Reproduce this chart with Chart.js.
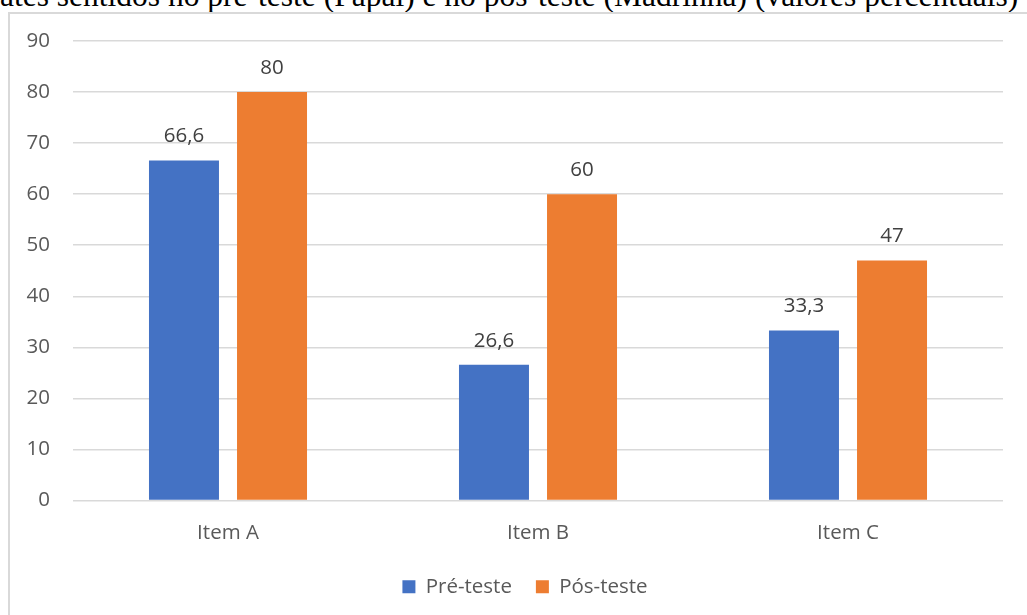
<!DOCTYPE html>
<html>
<head>
<meta charset="utf-8">
<script src="https://cdn.jsdelivr.net/npm/chart.js@4.4.1/dist/chart.umd.min.js"></script>
<style>
  html, body { margin: 0; padding: 0; background: #fff; }
  #wrap { position: relative; width: 1027px; height: 615px; overflow: hidden; background: #fff; }
  #title { position: absolute; left: 0; top: -20px; white-space: nowrap; font-family: "Liberation Serif", "DejaVu Serif", serif; font-size: 31.5px; color: #000; line-height: 1; }
  #box { position: absolute; left: 8px; top: 12px; width: 1040px; height: 640px; border: 2px solid #d9d9d9; box-sizing: border-box; }
  #c { position: absolute; left: 0; top: 0; }
</style>
</head>
<body>
<div id="wrap">
  <div id="title">ates sentidos no pré-teste (Papai) e no pós-teste (Madrinha) (valores percentuais)</div>
  <div id="box"></div>
  <canvas id="c" width="1027" height="615"></canvas>
</div>
<script>
const categories = ["Item A", "Item B", "Item C"];
const seriesNames = ["Pré-teste", "Pós-teste"];
const preTeste = [66.6, 26.6, 33.3];
const posTeste = [80, 60, 47];
const yMin = 0, yMax = 90, yStep = 10;

const FONT = '"Open Sans", "Noto Sans", sans-serif';
const FS = 20.5;

const valueLabels = {
  id: 'valueLabels',
  afterDatasetsDraw(chart) {
    const ctx = chart.ctx;
    ctx.save();
    ctx.font = FS + 'px ' + FONT;
    ctx.fillStyle = '#404040';
    ctx.textAlign = 'center';
    ctx.textBaseline = 'middle';
    chart.data.datasets.forEach((ds, i) => {
      const meta = chart.getDatasetMeta(i);
      meta.data.forEach((bar, j) => {
        const v = ds.data[j];
        ctx.fillText(String(v).replace('.', ','), bar.x, bar.y - 24);
      });
    });
    ctx.restore();
  }
};

// shift the legend so it sits where the original's does
const legendShift = {
  id: 'legendShift',
  afterLayout(chart) {
    const lg = chart.legend;
    if (!lg) return;
    const ca = chart.chartArea;
    const target = (ca.left + ca.right) / 2 - 13;
    const cur = (lg.left + lg.right) / 2;
    const d = target - cur;
    lg.left += d;
    lg.right += d;
  }
};

new Chart(document.getElementById('c'), {
  type: 'bar',
  data: {
    labels: categories,
    datasets: [
      { label: seriesNames[0], data: preTeste, backgroundColor: '#4472C4', borderWidth: 0 },
      { label: seriesNames[1], data: posTeste, backgroundColor: '#ED7D31', borderWidth: 0 }
    ]
  },
  options: {
    responsive: false,
    animation: false,
    devicePixelRatio: 1,
    layout: { padding: { top: 41, right: 24, left: 0, bottom: 8 } },
    datasets: { bar: { categoryPercentage: 0.568, barPercentage: 0.795 } },
    scales: {
      x: {
        grid: { display: false, drawTicks: false },
        border: { display: false },
        ticks: { color: '#595959', font: { size: FS, family: FONT }, padding: 20 },
        afterFit(scale) { scale.height = 52; }
      },
      y: {
        min: yMin, max: yMax,
        ticks: { stepSize: yStep, color: '#595959', font: { size: FS, family: FONT }, padding: 23 },
        grid: { color: '#d9d9d9', lineWidth: 1.5, drawTicks: false },
        border: { display: false },
        afterFit(scale) { scale.width = 73; }
      }
    },
    plugins: {
      legend: {
        position: 'bottom',
        labels: { color: '#595959', font: { size: FS, family: FONT }, boxWidth: 13, boxHeight: 13, padding: 24 }
      },
      tooltip: { enabled: false }
    }
  },
  plugins: [valueLabels, legendShift]
});
</script>
</body>
</html>
